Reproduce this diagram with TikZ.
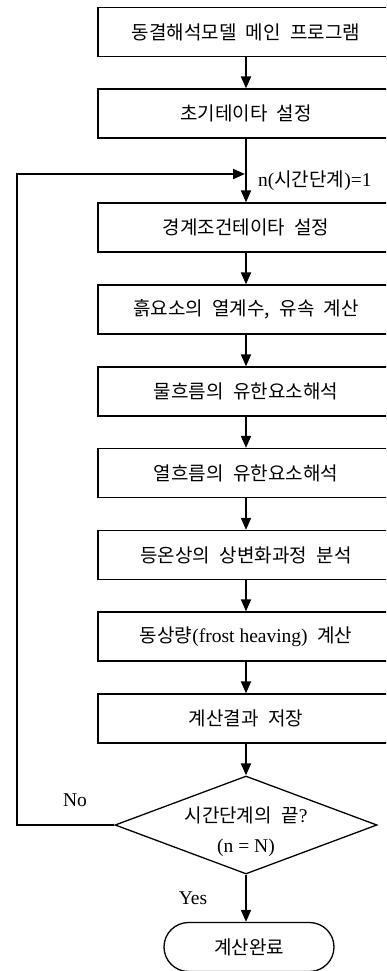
\documentclass[tikz,border=0pt]{standalone}
\usepackage{fontspec}
\setmainfont{Liberation Serif}
\newfontfamily\kr{Noto Sans CJK KR}[WordSpace=2.2]
\usetikzlibrary{arrows.meta,shapes.geometric,shapes.misc}
\newcommand{\krsz}{\kr\fontsize{19}{22}\selectfont}
\begin{document}
\begin{tikzpicture}[x=1pt,y=-1pt,
  box/.style={draw, line width=1.3pt, minimum width=296pt, minimum height=49pt, inner sep=0pt, font=\krsz},
  flow/.style={line width=1.9pt, -{Triangle[length=12pt,width=10pt]}},
  lbl/.style={inner sep=0pt, font=\fontsize{19.5}{22}\selectfont},
  dec/.style={draw, diamond, line width=1.3pt, minimum width=262pt, minimum height=98pt, aspect=2.67, inner sep=0pt},
  term/.style={draw, rounded rectangle, line width=1.3pt, minimum width=170pt, minimum height=49pt, inner sep=0pt, font=\krsz}]
\useasboundingbox (0,0) rectangle (386,971);
\clip (0,0) rectangle (386,971);
\node[box] (b1) at (246,32) {동결해석모델 메인 프로그램};
\node[box] (b2) at (246,113.5) {초기테이타 설정};
\node[box] (b3) at (246,227.5) {경계조건테이타 설정};
\node[box] (b4) at (246,309.5) {흙요소의 열계수, 유속 계산};
\node[box] (b5) at (246,391.5) {물흐름의 유한요소해석};
\node[box] (b6) at (246,473) {열흐름의 유한요소해석};
\node[box] (b7) at (246,555) {등온상의 상변화과정 분석};
\node[box] (b8) at (246,636.5) {동상량{\rmfamily\fontsize{19.5}{22}\selectfont(frost heaving)} 계산};
\node[box] (b9) at (246,718.5) {계산결과 저장};
\node[dec] (d) at (246,825) {};
\node[lbl] (dt1) at (246,815) {{\krsz 시간단계의 끝}?};
\node[lbl] (dt2) at (246,848) {(n = N)};
\node[term] (end) at (249,947) {계산완료};
\coordinate (lc) at (17,825);
\coordinate (lt) at (17,174);
\coordinate (jn) at (246,174);
\node[lbl, anchor=west] (nl) at (258,181) {n({\krsz 시간단계})=1};
\node[lbl] (no) at (75,800) {No};
\node[lbl] (yes) at (193,898) {Yes};
\draw[flow] (b1) -- (b2);
\draw[flow] (b2) -- (b3);
\draw[flow] (b3) -- (b4);
\draw[flow] (b4) -- (b5);
\draw[flow] (b5) -- (b6);
\draw[flow] (b6) -- (b7);
\draw[flow] (b7) -- (b8);
\draw[flow] (b8) -- (b9);
\draw[flow] (b9) -- (d);
\draw[flow, shorten >=1pt] (d.west) -- (lc) -- (lt) -- (jn);
\draw[flow] (d.south) -- (d.south |- end.north);
\end{tikzpicture}
\end{document}
